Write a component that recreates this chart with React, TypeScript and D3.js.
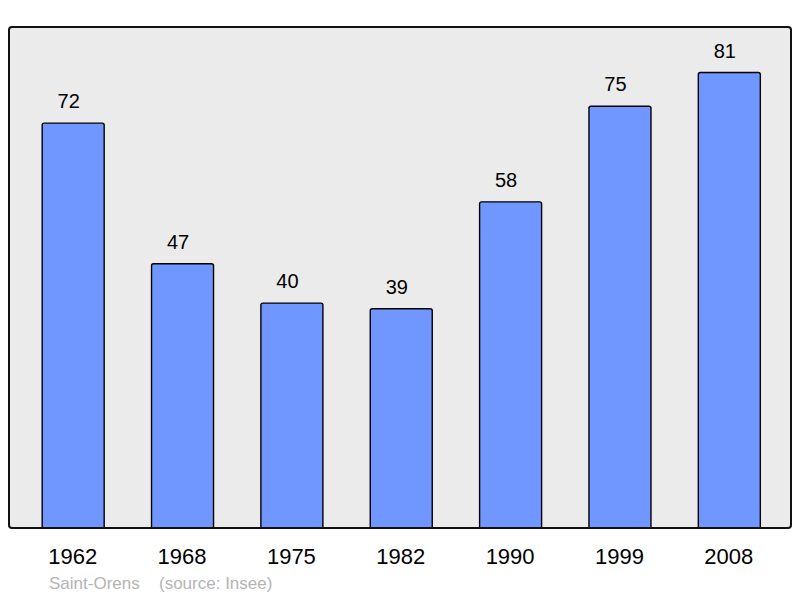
import React from "react";
import * as d3 from "d3";

const years = ["1962", "1968", "1975", "1982", "1990", "1999", "2008"];
const population = [72, 47, 40, 39, 58, 75, 81];
const placeName = "Saint-Orens";
const sourceText = "(source: Insee)";

const W = 800;
const H = 598;
const frame = { x0: 9, y0: 27, x1: 791, y1: 528 };

export default function App() {
  const x = d3
    .scaleBand<string>()
    .domain(years)
    .range([18.5, 784])
    .paddingInner(0.433)
    .paddingOuter(0.2165);
  const maxV = d3.max(population) as number;
  const y = d3.scaleLinear().domain([0, maxV * 1.1]).range([frame.y1, frame.y0]);
  const font = "'Liberation Sans', Arial, sans-serif";

  const barPath = (x0: number, yTop: number, w: number, yBot: number) => {
    const r = 2;
    return `M${x0},${yBot} L${x0},${yTop + r} Q${x0},${yTop} ${x0 + r},${yTop} L${x0 + w - r},${yTop} Q${x0 + w},${yTop} ${x0 + w},${yTop + r} L${x0 + w},${yBot}`;
  };

  return (
    <div style={{ position: "absolute", left: 0, top: 0 }}>
      <svg width={W} height={H} style={{ display: "block", background: "#fff" }}>
        <rect
          x={frame.x0}
          y={frame.y0}
          width={frame.x1 - frame.x0}
          height={frame.y1 - frame.y0}
          rx={3}
          fill="#ebebeb"
          stroke="none"
        />
        {years.map((yr, i) => {
          const bx = x(yr) as number;
          const bw = x.bandwidth();
          const yt = y(population[i]);
          return (
            <g key={yr}>
              <path
                d={barPath(bx, yt, bw, frame.y1)}
                fill="#7096ff"
                stroke="#000"
                strokeWidth={1.4}
              />
              <text
                x={bx + bw / 2 - 4.5}
                y={yt - 15}
                textAnchor="middle"
                fontFamily={font}
                fontSize={20}
                fill="#000"
              >
                {population[i]}
              </text>
              <text
                x={bx + bw / 2 - 0.5}
                y={564}
                textAnchor="middle"
                fontFamily={font}
                fontSize={22}
                fill="#000"
              >
                {yr}
              </text>
            </g>
          );
        })}
        <rect
          x={frame.x0}
          y={frame.y0}
          width={frame.x1 - frame.x0}
          height={frame.y1 - frame.y0}
          rx={3}
          fill="none"
          stroke="#111"
          strokeWidth={2}
        />
        <text x={49} y={589} fontFamily={font} fontSize={17} fill="#b4b4b4">
          {placeName}
        </text>
        <text x={159} y={589} fontFamily={font} fontSize={17} fill="#b4b4b4">
          {sourceText}
        </text>
      </svg>
    </div>
  );
}
